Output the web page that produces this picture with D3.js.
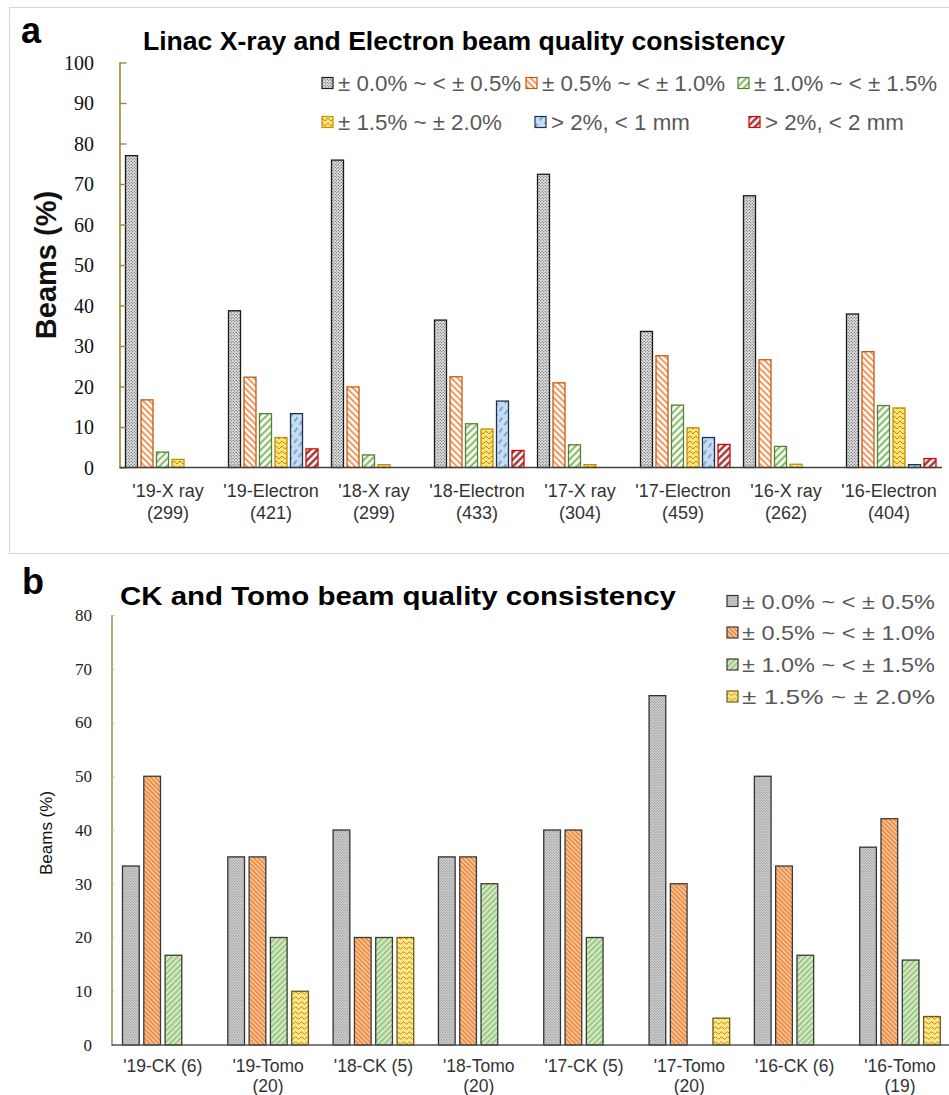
<!DOCTYPE html>
<html><head><meta charset="utf-8">
<script src="https://cdn.jsdelivr.net/npm/d3@7"></script>
<style>body{margin:0;background:#fff}svg{display:block}</style>
</head><body>
<svg id="c" width="949" height="1095"></svg>
<script>
// ---------- DATA ----------
const seriesA = ["± 0.0% ~ < ± 0.5%", "± 0.5% ~ < ± 1.0%", "± 1.0% ~ < ± 1.5%", "± 1.5% ~ ± 2.0%", "> 2%, < 1 mm", "> 2%, < 2 mm"];
const catsA = ["'19-X ray\n(299)", "'19-Electron\n(421)", "'18-X ray\n(299)", "'18-Electron\n(433)", "'17-X ray\n(304)", "'17-Electron\n(459)", "'16-X ray\n(262)", "'16-Electron\n(404)"];
const a0 = [77.0, 38.7, 75.9, 36.4, 72.4, 33.6, 67.1, 37.9];
const a1 = [16.7, 22.3, 19.9, 22.4, 20.9, 27.6, 26.6, 28.6];
const a2 = [3.8, 13.3, 3.1, 10.8, 5.6, 15.4, 5.2, 15.3];
const a3 = [2.0, 7.4, 0.7, 9.5, 0.7, 9.8, 0.8, 14.7];
const a4 = [0, 13.3, 0, 16.4, 0, 7.4, 0, 0.7];
const a5 = [0, 4.6, 0, 4.2, 0, 5.7, 0, 2.2];
const ticksA = [0, 10, 20, 30, 40, 50, 60, 70, 80, 90, 100];

const seriesB = ["± 0.0% ~ < ± 0.5%", "± 0.5% ~ < ± 1.0%", "± 1.0% ~ < ± 1.5%", "± 1.5% ~ ± 2.0%"];
const catsB = ["'19-CK (6)", "'19-Tomo\n(20)", "'18-CK (5)", "'18-Tomo\n(20)", "'17-CK (5)", "'17-Tomo\n(20)", "'16-CK (6)", "'16-Tomo\n(19)"];
const b0 = [33.3, 35, 40, 35, 40, 65, 50, 36.8];
const b1 = [50, 35, 20, 35, 40, 30, 33.3, 42.1];
const b2 = [16.7, 20, 20, 30, 20, 0, 16.7, 15.8];
const b3 = [0, 10, 20, 0, 0, 5, 0, 5.3];
const ticksB = [0, 10, 20, 30, 40, 50, 60, 70, 80];

const titleA = "Linac X-ray and Electron beam quality consistency";
const titleB = "CK and Tomo beam quality consistency";
const yTitle = "Beams (%)";

// ---------- SETUP ----------
const svg = d3.select("#c");
const defs = svg.append("defs");
const SANS = "'Liberation Sans', Arial, sans-serif";
const SERIF = "'Liberation Serif', 'Times New Roman', serif";

function stripe(id, angle, size, bg, color, w) {
  const p = defs.append("pattern").attr("id", id).attr("patternUnits", "userSpaceOnUse")
    .attr("width", size).attr("height", size).attr("patternTransform", `rotate(${angle})`);
  p.append("rect").attr("width", size).attr("height", size).attr("fill", bg);
  p.append("line").attr("x1", size / 2).attr("y1", -1).attr("x2", size / 2).attr("y2", size + 1)
    .attr("stroke", color).attr("stroke-width", w);
}
function dots(id, bg, color, s, r) {
  const p = defs.append("pattern").attr("id", id).attr("patternUnits", "userSpaceOnUse")
    .attr("width", s).attr("height", s);
  p.append("rect").attr("width", s).attr("height", s).attr("fill", bg);
  p.append("circle").attr("cx", s * 0.25).attr("cy", s * 0.25).attr("r", r).attr("fill", color);
  p.append("circle").attr("cx", s * 0.75).attr("cy", s * 0.75).attr("r", r).attr("fill", color);
}
function zig(id, bg, color, wave) {
  const p = defs.append("pattern").attr("id", id).attr("patternUnits", "userSpaceOnUse")
    .attr("width", 6).attr("height", 5);
  p.append("rect").attr("width", 6).attr("height", 5).attr("fill", bg);
  p.append("path").attr("d", wave ? "M0,3 Q1.5,0.5 3,3 T6,3" : "M0,1 L3,4 L6,1")
    .attr("fill", "none").attr("stroke", color).attr("stroke-width", 1);
}
function dash(id, bg, color) {
  const p = defs.append("pattern").attr("id", id).attr("patternUnits", "userSpaceOnUse")
    .attr("width", 6).attr("height", 9).attr("patternTransform", "rotate(35)");
  p.append("rect").attr("width", 6).attr("height", 9).attr("fill", bg);
  p.append("line").attr("x1", 3).attr("y1", 0).attr("x2", 3).attr("y2", 5)
    .attr("stroke", color).attr("stroke-width", 1);
}
// panel a patterns
dots("pA0", "#e4e4e4", "#3a3a3a", 3, 0.62);
stripe("pA1", -45, 4.5, "#ffffff", "#ED7D31", 1.6);
stripe("pA2", 45, 5, "#ffffff", "#70AD47", 1.8);
zig("pA3", "#FFE27A", "#BF8F00", false);
dash("pA4", "#C5DCF2", "#2E75B6");
stripe("pA5", 45, 5, "#ffffff", "#8B2020", 2.2);
// panel b patterns
dots("pB0", "#e2e2e2", "#8a8a8a", 2.6, 0.7);
stripe("pB1", -45, 3.2, "#F8C39A", "#E46C0A", 1.0);
stripe("pB2", 45, 4, "#D5EAC6", "#6AA843", 1.0);
zig("pB3", "#FFE68A", "#BF9000", true);

const fillsA = ["url(#pA0)", "url(#pA1)", "url(#pA2)", "url(#pA3)", "url(#pA4)", "url(#pA5)"];
const strokesA = ["#1a1a1a", "#C55A11", "#548235", "#BF9000", "#1F2F4F", "#E00000"];
const fillsB = ["url(#pB0)", "url(#pB1)", "url(#pB2)", "url(#pB3)"];
const strokesB = ["#333333", "#3a3a3a", "#3a3a3a", "#6b5a1a"];

// ---------- PANEL A ----------
svg.append("rect").attr("x", 9.5).attr("y", 7.5).attr("width", 945).attr("height", 546)
  .attr("fill", "none").attr("stroke", "#d9d9d9").attr("stroke-width", 1.2);

const gA = svg.append("g");
const xA = d3.scaleBand().domain(catsA).range([119.5, 943.5]).padding(0);
const xAs = d3.scaleBand().domain(d3.range(seriesA.length)).range([6, 95.5]).paddingInner(0.226).paddingOuter(0);
const yA = d3.scaleLinear().domain([0, 100]).range([467.5, 62.5]);
const valsA = [a0, a1, a2, a3, a4, a5];

valsA.forEach((vals, si) => {
  gA.append("g").selectAll("rect").data(vals.map((v, i) => ({ v, c: catsA[i] })).filter(d => d.v > 0))
    .join("rect")
    .attr("x", d => xA(d.c) + xAs(si))
    .attr("y", d => yA(d.v))
    .attr("width", xAs.bandwidth())
    .attr("height", d => yA(0) - yA(d.v))
    .attr("fill", fillsA[si]).attr("stroke", strokesA[si]).attr("stroke-width", 1.3);
});

const yAxisA = gA.append("g").attr("transform", "translate(119.5,0)")
  .call(d3.axisRight(yA).tickValues(ticksA).tickSize(7).tickFormat(""));
yAxisA.select(".domain").attr("stroke", "#9E8838").attr("stroke-width", 1.6).attr("d", `M0.5,${yA(100)}V${yA(0)}`);
yAxisA.selectAll(".tick line").attr("stroke", "#9E8838").attr("stroke-width", 1.4);
gA.append("g").selectAll("text").data(ticksA).join("text")
  .attr("x", 94).attr("y", d => yA(d)).attr("dy", "0.35em").attr("text-anchor", "end")
  .attr("font-family", SERIF).attr("font-size", 20).attr("fill", "#111").text(d => d);

gA.append("line").attr("x1", 119.5).attr("x2", 942).attr("y1", yA(0)).attr("y2", yA(0))
  .attr("stroke", "#404040").attr("stroke-width", 1.6);

const labA = gA.append("g").selectAll("text").data(catsA).join("text")
  .attr("text-anchor", "middle").attr("font-family", SANS).attr("font-size", 18).attr("fill", "#333");
labA.each(function (c) {
  const t = d3.select(this);
  const cx = xA(c) + 48.5;
  c.split("\n").forEach((ln, k) => t.append("tspan").attr("x", cx).attr("y", 497 + k * 22).text(ln));
});

svg.append("text").attr("x", 21).attr("y", 43).attr("font-family", SANS).attr("font-weight", "bold")
  .attr("font-size", 36).attr("fill", "#000").text("a");
svg.append("text").attr("x", 143).attr("y", 50).attr("font-family", SANS).attr("font-weight", "bold")
  .attr("font-size", 25).attr("textLength", 642).attr("lengthAdjust", "spacingAndGlyphs").attr("fill", "#000").text(titleA);
svg.append("text").attr("transform", "translate(56,265) rotate(-90)").attr("text-anchor", "middle")
  .attr("font-family", SANS).attr("font-weight", "bold").attr("font-size", 29).attr("fill", "#111").text(yTitle);

// legend a
const legAx = [322, 526, 738, 322, 535, 749];
const legAy = [83, 83, 83, 122, 122, 122];
const legA = gA.append("g").selectAll("g").data(seriesA).join("g")
  .attr("transform", (d, i) => `translate(${legAx[i]},${legAy[i]})`);
legA.append("rect").attr("x", 0).attr("y", -5.5).attr("width", 11).attr("height", 11)
  .attr("fill", (d, i) => fillsA[i]).attr("stroke", (d, i) => strokesA[i]).attr("stroke-width", 1.2);
legA.append("text").attr("x", 16).attr("y", 0).attr("dy", "0.36em").attr("font-family", SANS)
  .attr("font-size", 22.3).attr("fill", "#595959").text(d => d);

// ---------- PANEL B ----------
const gB = svg.append("g");
const xB = d3.scaleBand().domain(catsB).range([111.5, 954]).padding(0);
const xBs = d3.scaleBand().domain(d3.range(seriesB.length)).range([11, 91.6]).paddingInner(0.216).paddingOuter(0);
const yB = d3.scaleLinear().domain([0, 80]).range([1045, 615]);
const valsB = [b0, b1, b2, b3];

valsB.forEach((vals, si) => {
  gB.append("g").selectAll("rect").data(vals.map((v, i) => ({ v, c: catsB[i] })).filter(d => d.v > 0))
    .join("rect")
    .attr("x", d => xB(d.c) + xBs(si))
    .attr("y", d => yB(d.v))
    .attr("width", xBs.bandwidth())
    .attr("height", d => yB(0) - yB(d.v))
    .attr("fill", fillsB[si]).attr("stroke", strokesB[si]).attr("stroke-width", 1.3);
});

const yAxisB = gB.append("g").attr("transform", "translate(111.5,0)")
  .call(d3.axisRight(yB).tickValues(ticksB).tickSize(3).tickFormat(""));
yAxisB.select(".domain").attr("stroke", "#A49255").attr("stroke-width", 1.6).attr("d", `M0.5,${yB(80)}V${yB(0)}`);
yAxisB.selectAll(".tick line").attr("stroke", "#cbbf96").attr("stroke-width", 1);
gB.append("g").selectAll("text").data(ticksB).join("text")
  .attr("x", 92).attr("y", d => yB(d)).attr("dy", "0.35em").attr("text-anchor", "end")
  .attr("font-family", SERIF).attr("font-size", 17).attr("fill", "#222").text(d => d);

gB.append("line").attr("x1", 111.5).attr("x2", 949).attr("y1", yB(0)).attr("y2", yB(0))
  .attr("stroke", "#555").attr("stroke-width", 1.6);

const labB = gB.append("g").selectAll("text").data(catsB).join("text")
  .attr("text-anchor", "middle").attr("font-family", SANS).attr("font-size", 17.5).attr("fill", "#333");
labB.each(function (c) {
  const t = d3.select(this);
  const cx = xB(c) + 51.3;
  c.split("\n").forEach((ln, k) => t.append("tspan").attr("x", cx).attr("y", 1072 + k * 19.5).text(ln));
});

svg.append("text").attr("x", 22).attr("y", 594).attr("font-family", SANS).attr("font-weight", "bold")
  .attr("font-size", 36).attr("fill", "#000").text("b");
svg.append("text").attr("x", 120).attr("y", 605).attr("font-family", SANS).attr("font-weight", "bold")
  .attr("font-size", 25).attr("textLength", 556).attr("lengthAdjust", "spacingAndGlyphs").attr("fill", "#000").text(titleB);
svg.append("text").attr("transform", "translate(52,833) rotate(-90)").attr("text-anchor", "middle")
  .attr("font-family", SANS).attr("font-size", 17).attr("fill", "#111").text(yTitle);

const legBy = [601, 632.5, 664.5, 696.5];
const legB = gB.append("g").selectAll("g").data(seriesB).join("g")
  .attr("transform", (d, i) => `translate(727,${legBy[i]})`);
legB.append("rect").attr("x", 0).attr("y", -5.5).attr("width", 11).attr("height", 11)
  .attr("fill", (d, i) => fillsB[i]).attr("stroke", (d, i) => strokesB[i]).attr("stroke-width", 1.2);
legB.append("text").attr("x", 15).attr("y", 0).attr("dy", "0.36em").attr("font-family", SANS)
  .attr("font-size", 21).attr("textLength", 193).attr("lengthAdjust", "spacingAndGlyphs")
  .attr("fill", "#595959").text(d => d);
</script>
</body></html>
